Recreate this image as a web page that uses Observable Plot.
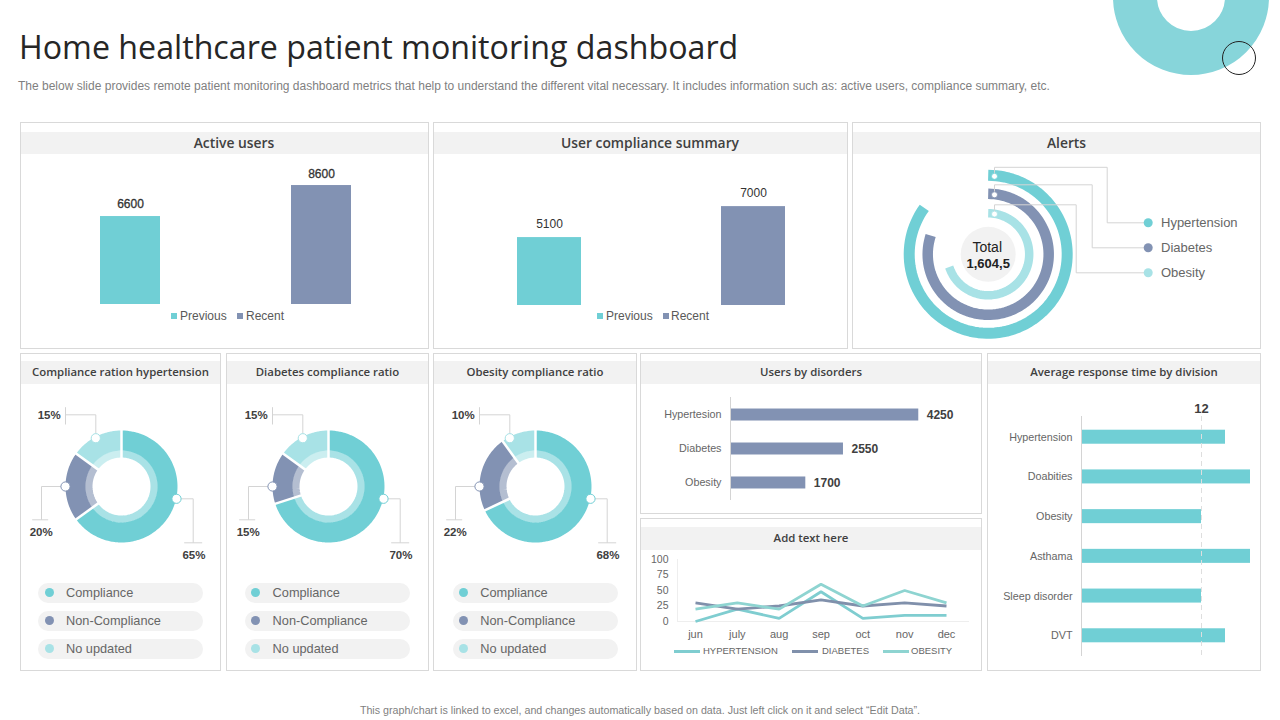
<!DOCTYPE html>
<html><head><meta charset="utf-8">
<script src="https://cdn.jsdelivr.net/npm/d3@7"></script>
<script src="https://cdn.jsdelivr.net/npm/@observablehq/plot@0.6"></script>
<style>
html,body{margin:0;padding:0;background:#fff;width:1280px;height:720px;overflow:hidden}
#root{position:relative;width:1280px;height:720px;overflow:hidden;font-family:"Liberation Sans",Arial,sans-serif}
#root>*{position:absolute;white-space:nowrap}
.panel{box-sizing:border-box;border:1px solid #d9d9d9;background:#fff}
.head{box-sizing:border-box;background:#f2f2f2;color:#404040;font-family:"Open Sans",sans-serif;font-weight:600;text-align:center}
.lg{color:#595959;line-height:14px}
svg.plot-abs{position:absolute;background:transparent}
</style></head>
<body><div id="root"></div>
<script>
// ---------- data ----------
const barLabels = ["Previous", "Recent"];
const activeValues = [6600, 8600];
const complianceValues = [5100, 7000];
const alertNames = ["Hypertension", "Diabetes", "Obesity"];
const alertValues = [85, 80, 70];
const alertTotal = "1,604,5";
const donutCategories = ["Compliance", "Non-Compliance", "No updated"];
const hypertensionRatio = [65, 20, 15];
const diabetesRatio = [70, 15, 15];
const obesityRatio = [68, 22, 10];
const disorderNames = ["Hypertesion", "Diabetes", "Obesity"];
const disorderValues = [4250, 2550, 1700];
const divisionNames = ["Hypertension", "Doabities", "Obesity", "Asthama", "Sleep disorder", "DVT"];
const divisionValues = [14.4, 16.9, 12, 16.9, 12, 14.4];
const divisionMark = 12;
const months = ["jun", "july", "aug", "sep", "oct", "nov", "dec"];
const seriesNames = ["HYPERTENSION", "DIABETES", "OBESITY"];
const hypertensionSeries = [0, 20, 5, 48, 5, 10, 10];
const diabetesSeries = [30, 20, 25, 35, 25, 30, 25];
const obesitySeries = [20, 30, 20, 60, 25, 50, 30];

// ---------- palette and page helpers ----------
const TEAL = "#70cfd5", SLATE = "#8292b3", LIGHT = "#a8e2e6";
const GREY = "#595959", LINE = "#d4d4d4";
const FONT = "'Liberation Sans', Arial, sans-serif";
const root = document.getElementById("root");

function el(cls, x, y, w, h, text, css = {}) {
  const d = document.createElement("div");
  d.className = cls;
  Object.assign(d.style, {left: x + "px", top: y + "px"}, w != null ? {width: w + "px"} : {}, h != null ? {height: h + "px"} : {}, css);
  if (text != null) d.textContent = text;
  root.append(d);
  return d;
}
function panel(x, y, w, h, title, headTop, headH, fs, shift = 0, lift = 0) {
  el("panel", x, y, w, h);
  el("head", x + 1, headTop, w - 2, headH, title, {fontSize: fs + "px", lineHeight: (headH - lift) + "px", paddingLeft: shift + "px"});
}
function place(svg, x, y) {
  svg.classList.add("plot-abs");
  svg.style.left = x + "px";
  svg.style.top = y + "px";
  svg.style.maxWidth = "none";
  root.append(svg);
}
function base(w, h, extra) {
  return {width: w, height: h, marginTop: 0, marginRight: 0, marginBottom: 0, marginLeft: 0,
    style: {background: "transparent", fontFamily: FONT, color: GREY, overflow: "visible"}, ...extra};
}
// position along a ring: f is the share of the full turn, clockwise from 12 o'clock
const polar = (f, r) => ({x: r * Math.sin(f * 2 * Math.PI), y: -r * Math.cos(f * 2 * Math.PI)});
const arcPoints = (a, b, r) => d3.range(Math.ceil((b - a) * 120) + 2).map((i, _, s) => polar(a + (b - a) * i / (s.length - 1), r));
const pathRows = (path) => path.map(([x, y]) => ({x, y}));

// ---------- page furniture ----------
el("", 1113, -81, 156, 156, null, {boxSizing: "border-box", borderRadius: "50%", border: "44px solid #87d5da"});
el("", 1222, 41, 34, 34, null, {boxSizing: "border-box", borderRadius: "50%", border: "1px solid #222"});
el("", 19, 26, null, null, "Home healthcare patient monitoring dashboard",
  {fontFamily: "'Open Sans',sans-serif", fontSize: "32.2px", lineHeight: "42px", color: "#262626"});
el("", 18, 79, null, null, "The below slide provides remote patient monitoring dashboard metrics that help to understand the different vital necessary. It includes information such as: active users, compliance summary, etc.",
  {fontSize: "12px", lineHeight: "14px", color: "#7f7f7f"});
el("", 0, 703.5, 1280, null, "This graph/chart is linked to excel, and changes automatically based on data. Just left click on it and select “Edit Data”.",
  {fontSize: "10.7px", lineHeight: "12px", color: "#7f7f7f", textAlign: "center"});

panel(20, 122, 409, 227, "Active users", 132, 22, 13.85, 19);
panel(433, 122, 415, 227, "User compliance summary", 132, 22, 13.85, 19);
panel(852, 122, 409, 227, "Alerts", 132, 22, 13.85, 20);
panel(20, 353, 201, 318, "Compliance ration hypertension", 361, 23, 11.4, 0, 2);
panel(226, 353, 203, 318, "Diabetes compliance ratio", 361, 23, 11.4, 0, 2);
panel(433, 353, 204, 318, "Obesity compliance ratio", 361, 23, 11.4, 0, 2);
panel(640, 353, 342, 161, "Users by disorders", 361, 23, 11.4, 0, 2);
panel(640, 518, 342, 153, "Add text here", 527, 23, 11.4, 0, 2);
panel(987, 353, 274, 318, "Average response time by division", 361, 23, 11.4, 0, 2);

// ---------- two-bar charts ----------
function twoBars(values, o) {
  const rows = barLabels.map((name, i) => ({name, value: values[i]}));
  const top = o.floor + o.base / o.k;
  place(Plot.plot(base(o.w, o.h, {
    x: {type: "band", domain: barLabels, range: o.xr, paddingInner: o.pad, paddingOuter: 0, round: false, axis: null},
    y: {domain: [o.floor, top], range: [o.base, 0], axis: null},
    color: {domain: barLabels, range: [TEAL, SLATE]},
    marks: [
      Plot.barY(rows, {x: "name", y1: o.floor, y2: "value", fill: "name"}),
      rows.map((r, i) => Plot.text([r], {x: "name", y: "value", dy: o.lift[i], text: (d) => String(d.value), fontSize: 12, fill: "#333", stroke: "#333", strokeWidth: o.heavy}))
    ]
  })), o.x, o.y);
  o.legend.forEach(([sx, tx], i) => {
    el("", sx, 312.5, 6, 6, null, {background: i ? SLATE : TEAL});
    el("lg", tx, 309, null, null, barLabels[i], {fontSize: "12px"});
  });
}
twoBars(activeValues, {x: 21, y: 155, w: 407, h: 193, xr: [79, 330], pad: 1 - 60 / 191, base: 149, floor: 925, k: 0.0155, heavy: 0.3, lift: [-12.5, -11],
  legend: [[171, 180], [237, 246]]});
twoBars(complianceValues, {x: 434, y: 155, w: 413, h: 193, xr: [83, 351], pad: 1 - 64 / 204, base: 150, floor: 933, k: 0.0163, heavy: 0, lift: [-13, -13],
  legend: [[597, 606], [663, 671]]});

// ---------- alerts rings ----------
const alertRings = [{mid: 79, width: 11, color: TEAL}, {mid: 60.5, width: 10.5, color: SLATE}, {mid: 41, width: 8.5, color: LIGHT}];
const alertLeaders = [
  {dot: [6.3, -78], path: [[6.3, -87], [119, -87], [119, -31.5], [160, -31.5]]},
  {dot: [6.3, -59.5], path: [[6.3, -69.5], [104, -69.5], [104, -6.5], [160, -6.5]]},
  {dot: [6.3, -40.2], path: [[6.3, -49.5], [88, -49.5], [88, 18.5], [160, 18.5]]}
];
const alertCx = 987.7, alertCy = 253.8;
place(Plot.plot(base(407, 193, {
  x: {domain: [853 - alertCx, 1260 - alertCx], range: [0, 407], axis: null},
  y: {domain: [155 - alertCy, 348 - alertCy], range: [0, 193], axis: null},
  marks: [
    alertValues.map((v, i) => Plot.line(arcPoints(0, v / 100, alertRings[i].mid), {x: "x", y: "y", stroke: alertRings[i].color, strokeWidth: alertRings[i].width, strokeLinecap: "butt"})),
    Plot.dot([{x: 0, y: 0}], {x: "x", y: "y", r: 27.5, fill: "#f2f2f2"}),
    alertLeaders.map((l, i) => [
      Plot.line(pathRows([l.dot, ...l.path]), {x: "x", y: "y", stroke: LINE, strokeWidth: 1, strokeLinecap: "butt", strokeLinejoin: "miter"}),
      Plot.dot([{x: l.dot[0], y: l.dot[1]}], {x: "x", y: "y", r: 3, fill: "#fff", stroke: alertRings[i].color, strokeWidth: 0.8}),
      Plot.dot([l.path[3]], {x: (d) => d[0], y: (d) => d[1], r: 4.5, fill: alertRings[i].color}),
      Plot.text([l.path[3]], {x: (d) => d[0], y: (d) => d[1], dx: 12.8, text: () => alertNames[i], textAnchor: "start", fontSize: 13, fill: "#666"})
    ]),
    Plot.text([{x: -1, y: -6.5}], {x: "x", y: "y", text: () => "Total", fontSize: 14, fill: "#222"}),
    Plot.text([{x: 0, y: 9.5}], {x: "x", y: "y", text: () => alertTotal, fontSize: 13, fontWeight: 700, fill: "#222"})
  ]
})), 853, 155);

// ---------- compliance donuts ----------
const donutLeaders = [
  {path: [[55, 12.3], [71.7, 12.3], [71.7, 56.3]], tick: [[62.7, 56.3], [80.7, 56.3]], label: [72.4, 68.8]},
  {path: [[-56, 0], [-80, 0], [-80, 33.3]], tick: [[-89.3, 33.3], [-73.3, 33.3]], label: [-80.3, 45.7]},
  {path: [[-25.7, -48.3], [-25.7, -71.7], [-56, -71.7]], tick: [[-56, -79.3], [-56, -62]], label: [-72.3, -71]}
];
function donut(values, cx) {
  const total = d3.sum(values);
  let acc = 0;
  const slices = values.map((v, i) => {
    const s = {cat: donutCategories[i], value: v, a: acc / total, b: (acc + v) / total};
    acc += v;
    return s;
  });
  const ring = (r) => slices.flatMap((s) => arcPoints(s.a, s.b, r).map((p) => ({...p, cat: s.cat})));
  const gaps = slices.map((s) => ({from: polar(s.a, 27), to: polar(s.a, 58)}));
  place(Plot.plot(base(200, 194, {
    x: {domain: [-100, 100], range: [0, 200], axis: null},
    y: {domain: [-100, 94], range: [0, 194], axis: null},
    color: {domain: donutCategories, range: [TEAL, SLATE, LIGHT]},
    marks: [
      Plot.line(ring(32.7), {x: "x", y: "y", stroke: "cat", strokeWidth: 7.4, strokeOpacity: 0.6, strokeLinecap: "butt"}),
      Plot.line(ring(46), {x: "x", y: "y", stroke: "cat", strokeWidth: 20, strokeLinecap: "butt"}),
      Plot.link(gaps, {x1: (d) => d.from.x, y1: (d) => d.from.y, x2: (d) => d.to.x, y2: (d) => d.to.y, stroke: "#fff", strokeWidth: 2.5}),
      donutLeaders.map((l, i) => [
        Plot.line(pathRows(l.path), {x: "x", y: "y", stroke: LINE, strokeWidth: 1, strokeLinecap: "butt", strokeLinejoin: "miter"}),
        Plot.line(pathRows(l.tick), {x: "x", y: "y", stroke: LINE, strokeWidth: 1, strokeLinecap: "butt"}),
        Plot.dot([slices[i]], {x: () => l.path[0][0], y: () => l.path[0][1], r: 4.6, fill: "#fff", stroke: "cat", strokeWidth: 1}),
        Plot.text([slices[i]], {x: () => l.label[0], y: () => l.label[1], text: (d) => d.value + "%", fontSize: 11.5, fontWeight: 700, fill: "#404040"})
      ])
    ]
  })), cx - 100.7, 385.5);
  donutCategories.forEach((c, i) => {
    const y = 582.5 + i * 28;
    el("", cx - 83.5, y, 165, 20, null, {background: "#f2f2f2", borderRadius: "10px"});
    el("", cx - 77, y + 5.5, 9, 9, null, {background: [TEAL, SLATE, LIGHT][i], borderRadius: "50%"});
    el("lg", cx - 55.7, y + 3, null, null, c, {fontSize: "12.75px", color: "#666"});
  });
}
donut(hypertensionRatio, 121.7);
donut(diabetesRatio, 328.3);
donut(obesityRatio, 536);

// ---------- users by disorders ----------
const disorderRows = disorderNames.map((name, i) => ({name, value: disorderValues[i]}));
place(Plot.plot(base(250, 103, {
  marginLeft: 89,
  x: {domain: [0, 5000], range: [89, 89 + 5000 * 0.0443], axis: null},
  y: {type: "band", domain: disorderNames, paddingInner: 0.647, paddingOuter: 0.339, round: false},
  marks: [
    Plot.axisY({tickSize: 0, tickPadding: 9, fontSize: 10.75, label: null, fill: "#666"}),
    Plot.barX(disorderRows, {x: "value", y: "name", fill: SLATE}),
    Plot.ruleX([0], {stroke: LINE}),
    Plot.text(disorderRows, {x: "value", y: "name", dx: 8, text: (d) => String(d.value), textAnchor: "start", fontSize: 12, fontWeight: 700, fill: "#404040"})
  ]
})), 641, 397);

// ---------- monthly lines ----------
const lineRows = seriesNames.flatMap((series, s) => [hypertensionSeries, diabetesSeries, obesitySeries][s].map((value, i) => ({series, month: months[i], value})));
const lineColors = ["#7fcdd0", "#8090ab", "#8ed4d1"];
place(Plot.plot(base(340, 90, {
  marginTop: 7, marginBottom: 21, marginLeft: 36, marginRight: 12,
  x: {type: "point", domain: months, range: [54, 305], padding: 0, round: false},
  y: {domain: [0, 100]},
  color: {domain: seriesNames, range: lineColors},
  marks: [
    Plot.axisY({ticks: [0, 25, 50, 75, 100], tickSize: 0, tickPadding: 9, fontSize: 10.5, label: null, fill: "#666"}),
    Plot.axisX({tickSize: 0, tickPadding: 9, fontSize: 11, label: null, fill: "#666"}),
    Plot.frame({anchor: "left", stroke: "#eee"}),
    Plot.ruleY([0], {stroke: "#eee"}),
    Plot.line(lineRows, {x: "month", y: "value", stroke: "series", strokeWidth: 2.8, strokeLinecap: "butt", strokeLinejoin: "miter", curve: "linear"})
  ]
})), 641, 552);
[[674, 703], [792, 822], [883, 911]].forEach(([lx, tx], i) => {
  el("", lx, 650, 26, 3, null, {background: lineColors[i]});
  el("lg", tx, 644, null, null, seriesNames[i], {fontSize: "9.5px", color: "#666"});
});

// ---------- average response ----------
const divisionRows = divisionNames.map((name, i) => ({name, value: divisionValues[i]}));
place(Plot.plot(base(272, 240, {
  marginLeft: 93,
  x: {domain: [0, 18], range: [93, 93 + 180], axis: null},
  y: {type: "band", domain: divisionNames, paddingInner: 0.647, paddingOuter: 0.345, round: false},
  marks: [
    Plot.axisY({tickSize: 0, tickPadding: 9, fontSize: 10.75, label: null, fill: "#666"}),
    Plot.barX(divisionRows, {x: "value", y: "name", fill: TEAL}),
    Plot.ruleX([0], {stroke: LINE}),
    Plot.ruleX([divisionMark], {stroke: "#dedede", strokeDasharray: "5 4"}),
    Plot.text([divisionMark], {x: (d) => d, frameAnchor: "top", dy: -13, text: (d) => String(d), fontSize: 13, fontWeight: 700, fill: "#404040"})
  ]
})), 988, 416);
</script>
</body></html>
